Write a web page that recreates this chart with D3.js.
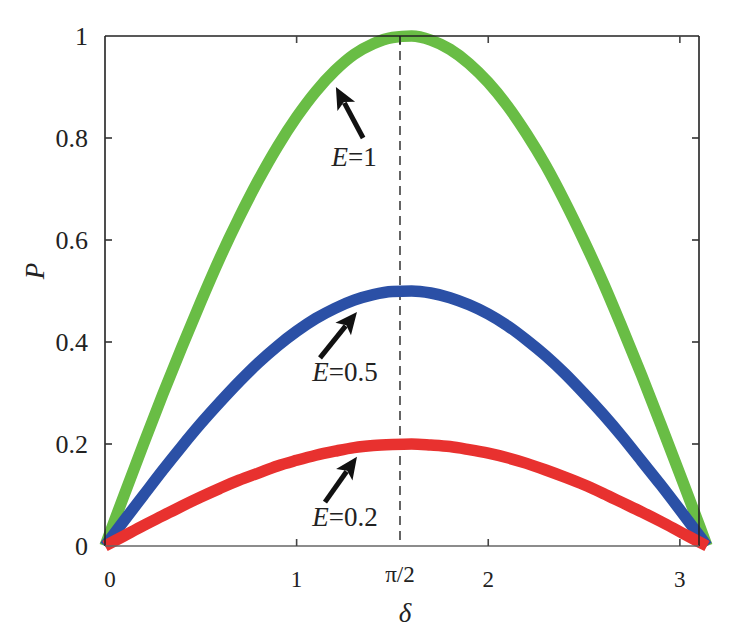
<!DOCTYPE html>
<html><head><meta charset="utf-8">
<script src="https://cdn.jsdelivr.net/npm/d3@7"></script>
<style>body{margin:0;background:#fff}svg{display:block}</style>
</head><body>
<svg id="c" width="739" height="639"></svg>
<script>
// ---- data ----
const delta = [0,0.1,0.2,0.3,0.4,0.5,0.6,0.7,0.8,0.9,1.0,1.1,1.2,1.3,1.4,1.5,1.6,1.7,1.8,1.9,2.0,2.1,2.2,2.3,2.4,2.5,2.6,2.7,2.8,2.9,3.0,3.1,3.1416];
const pE1  = [0,.100,.199,.296,.389,.479,.565,.644,.717,.783,.841,.891,.932,.964,.985,.997,1.000,.992,.974,.946,.909,.863,.808,.746,.675,.598,.516,.427,.335,.239,.141,.042,0];
const pE05 = [0,.050,.099,.148,.195,.240,.282,.322,.359,.392,.421,.446,.466,.482,.493,.499,.500,.496,.487,.473,.455,.432,.404,.373,.338,.299,.258,.214,.167,.120,.071,.021,0];
const pE02 = [0,.020,.040,.059,.078,.096,.113,.129,.143,.157,.168,.178,.186,.193,.197,.199,.200,.198,.195,.189,.182,.173,.162,.149,.135,.120,.103,.085,.067,.048,.028,.008,0];
const xTicks = [0,1,2,3];
const xTickLabels = ["0","1","2","3"];
const yTicks = [0,0.2,0.4,0.6,0.8,1];
const yTickLabels = ["0","0.2","0.4","0.6","0.8","1"];
const halfPi = 1.5708;
const seriesNames = ["=1","=0.5","=0.2"];
// annotation arrows in data coords: tail, tip, label anchor
const annTail = [[1.347,0.80],[1.122,0.369],[1.148,0.086]];
const annTip  = [[1.205,0.90],[1.315,0.459],[1.315,0.175]];
const annLab  = [[1.30,0.745],[1.253,0.324],[1.253,0.040]];

const FF = '"Liberation Serif", "Times New Roman", serif';
const svg = d3.select("#c");
const L = 105, T = 36, B = 546, R = 699, XR = 707;
const x = d3.scaleLinear().domain([0, 3.1416]).range([L, XR]);
const y = d3.scaleLinear().domain([0, 1]).range([B, T]);
const txt = (sel)=>sel.append("text").style("font-family", FF).attr("fill","#222");

// dashed pi/2 line
svg.append("line").attr("x1", x(halfPi)-6).attr("x2", x(halfPi)-6)
  .attr("y1", T).attr("y2", B).attr("stroke", "#111").attr("stroke-width", 1.3)
  .attr("stroke-dasharray", "9,6");

// curves
const line = d3.line().x((d,i)=>x(delta[i])).y(d=>y(d)).curve(d3.curveMonotoneX);
const cols = ["#69bd45", "#2b50a6", "#e8312f"];
[pE1, pE05, pE02].forEach((s,k)=>{
  svg.append("path").attr("d", line(s)).attr("fill","none")
    .attr("stroke", cols[k]).attr("stroke-width", 11.5).attr("stroke-linejoin","round");
});

// frame
const fr = svg.append("g").attr("fill","none").attr("stroke-width",1.6);
fr.append("line").attr("x1",L).attr("x2",L).attr("y1",T).attr("y2",B).attr("stroke","#222");
fr.append("line").attr("x1",L).attr("x2",R).attr("y1",T).attr("y2",T).attr("stroke","#222");
fr.append("line").attr("x1",R).attr("x2",R).attr("y1",T).attr("y2",B).attr("stroke","#222");
fr.append("line").attr("x1",L).attr("x2",R).attr("y1",B).attr("y2",B).attr("stroke","#666");

// ticks
xTicks.forEach((v,i)=>{
  if (v !== 0) {
    fr.append("line").attr("x1",x(v)).attr("x2",x(v)).attr("y1",B).attr("y2",B-7).attr("stroke","#444");
    fr.append("line").attr("x1",x(v)).attr("x2",x(v)).attr("y1",T).attr("y2",T+7).attr("stroke","#444");
  }
  txt(svg).attr("x", x(v)+(v===0?5:0)).attr("y", 587).attr("text-anchor","middle")
    .attr("font-size",23).text(xTickLabels[i]);
});
fr.append("line").attr("x1",x(halfPi)-6).attr("x2",x(halfPi)-6).attr("y1",T).attr("y2",T+8).attr("stroke","#222");
txt(svg).attr("x", x(halfPi)-6).attr("y", 582).attr("text-anchor","middle")
  .attr("font-size",23).text("π/2");

yTicks.forEach((v,i)=>{
  if (v !== 0 && v !== 1) {
    fr.append("line").attr("x1",L).attr("x2",L+7).attr("y1",y(v)).attr("y2",y(v)).attr("stroke","#333");
    fr.append("line").attr("x1",R).attr("x2",R-7).attr("y1",y(v)).attr("y2",y(v)).attr("stroke","#333");
  }
  txt(svg).attr("x", 88).attr("y", y(v)+9).attr("text-anchor","end")
    .attr("font-size",26).text(yTickLabels[i]);
});

// axis titles
txt(svg).attr("x", 405).attr("y", 622).attr("text-anchor","middle")
  .attr("font-style","italic").attr("font-size",27).text("δ");
txt(svg).attr("transform","translate(44,271) rotate(-90)").attr("text-anchor","middle")
  .attr("font-style","italic").attr("font-size",27).text("P");

// annotations
annTail.forEach((t,k)=>{
  const x0=x(t[0]), y0=y(t[1]), x1=x(annTip[k][0]), y1=y(annTip[k][1]);
  const ang=Math.atan2(y1-y0,x1-x0), hl=22, hw=10;
  const bx=x1-hl*Math.cos(ang), by=y1-hl*Math.sin(ang);
  svg.append("line").attr("x1",x0).attr("y1",y0).attr("x2",bx+4*Math.cos(ang)).attr("y2",by+4*Math.sin(ang))
    .attr("stroke","#111").attr("stroke-width",5);
  const px=-Math.sin(ang), py=Math.cos(ang);
  svg.append("path").attr("fill","#111")
    .attr("d",`M${x1},${y1}L${bx+hw*px},${by+hw*py}L${bx+5*Math.cos(ang)},${by+5*Math.sin(ang)}L${bx-hw*px},${by-hw*py}Z`);
  const tx = txt(svg).attr("x", x(annLab[k][0])).attr("y", y(annLab[k][1]))
    .attr("text-anchor","middle").attr("font-size",27);
  tx.append("tspan").attr("font-style","italic").text("E");
  tx.append("tspan").text(seriesNames[k]);
});
</script>
</body></html>
